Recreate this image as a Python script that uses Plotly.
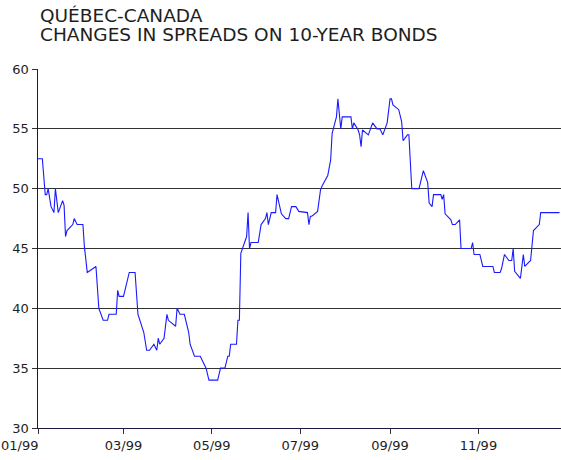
import plotly.graph_objects as go

dates = [
    "1999-01-01", "1999-01-04", "1999-01-06", "1999-01-07", "1999-01-08", "1999-01-10",
    "1999-01-12", "1999-01-13", "1999-01-15", "1999-01-18", "1999-01-19", "1999-01-20",
    "1999-01-21", "1999-01-25", "1999-01-26", "1999-01-28", "1999-02-01", "1999-02-02",
    "1999-02-04", "1999-02-10", "1999-02-12", "1999-02-15", "1999-02-18", "1999-02-19",
    "1999-02-24", "1999-02-25", "1999-02-26", "1999-03-01", "1999-03-05", "1999-03-09",
    "1999-03-11", "1999-03-15", "1999-03-17", "1999-03-19", "1999-03-22", "1999-03-24",
    "1999-03-25", "1999-03-26", "1999-03-29", "1999-03-31", "1999-04-01", "1999-04-06",
    "1999-04-07", "1999-04-09", "1999-04-12", "1999-04-15", "1999-04-16", "1999-04-19",
    "1999-04-23", "1999-04-27", "1999-04-29", "1999-05-05", "1999-05-07", "1999-05-10",
    "1999-05-12", "1999-05-13", "1999-05-14", "1999-05-18", "1999-05-19", "1999-05-20",
    "1999-05-21", "1999-05-25", "1999-05-26", "1999-05-27", "1999-05-28", "1999-06-02",
    "1999-06-04", "1999-06-07", "1999-06-08", "1999-06-09", "1999-06-11", "1999-06-14",
    "1999-06-15", "1999-06-16", "1999-06-18", "1999-06-21", "1999-06-23", "1999-06-25",
    "1999-06-28", "1999-06-30", "1999-07-06", "1999-07-07", "1999-07-08", "1999-07-09",
    "1999-07-13", "1999-07-15", "1999-07-16", "1999-07-20", "1999-07-22", "1999-07-23",
    "1999-07-26", "1999-07-27", "1999-07-29", "1999-07-30", "1999-08-05", "1999-08-06",
    "1999-08-07", "1999-08-10", "1999-08-11", "1999-08-12", "1999-08-13", "1999-08-17",
    "1999-08-20", "1999-08-23", "1999-08-25", "1999-08-27", "1999-08-30", "1999-09-01",
    "1999-09-02", "1999-09-03", "1999-09-07", "1999-09-09", "1999-09-10", "1999-09-13",
    "1999-09-14", "1999-09-16", "1999-09-21", "1999-09-24", "1999-09-27", "1999-09-28",
    "1999-09-30", "1999-10-01", "1999-10-06", "1999-10-07", "1999-10-08", "1999-10-09",
    "1999-10-13", "1999-10-14", "1999-10-16", "1999-10-19", "1999-10-20", "1999-10-27",
    "1999-10-28", "1999-10-29", "1999-11-02", "1999-11-04", "1999-11-11", "1999-11-12",
    "1999-11-16", "1999-11-17", "1999-11-19", "1999-11-22", "1999-11-24", "1999-11-25",
    "1999-11-26", "1999-11-30", "1999-12-02", "1999-12-03", "1999-12-07", "1999-12-09",
    "1999-12-13", "1999-12-14", "1999-12-27",
]

spreads = [
    52.5, 52.5, 49.5, 49.5, 50.0, 48.5,
    48.0, 50.0, 48.0, 49.0, 48.6, 46.0,
    46.5, 47.0, 47.5, 47.0, 47.0, 45.2,
    43.0, 43.5, 40.0, 39.0, 39.0, 39.5,
    39.5, 41.5, 41.0, 41.0, 43.0, 43.0,
    39.5, 38.0, 36.5, 36.5, 37.0, 36.5,
    37.5, 37.0, 37.5, 39.5, 39.0, 38.5,
    40.0, 39.5, 39.5, 38.0, 37.0, 36.0,
    36.0, 35.0, 34.0, 34.0, 35.0, 35.0,
    36.0, 36.0, 37.0, 37.0, 39.0, 39.0,
    44.6, 46.0, 48.0, 45.0, 45.5, 45.5,
    47.0, 47.5, 48.0, 47.0, 48.0, 48.0,
    49.5, 49.0, 47.9, 47.5, 47.5, 48.5,
    48.5, 48.1, 48.0, 47.0, 47.7, 47.7,
    48.1, 49.9, 50.2, 51.1, 52.4, 54.6,
    56.0, 57.5, 55.0, 56.0, 56.0, 55.0,
    55.5, 54.9, 54.5, 53.5, 54.9, 54.5,
    55.5, 55.0, 55.0, 54.5, 55.5, 57.5,
    57.5, 57.0, 56.6, 55.6, 54.0, 54.5,
    54.5, 50.0, 50.0, 51.5, 50.5, 48.8,
    48.5, 49.5, 49.5, 49.1, 49.5, 47.9,
    47.4, 47.0, 47.0, 47.4, 45.0, 45.0,
    45.5, 44.5, 44.5, 43.5, 43.5, 43.0,
    43.0, 43.35, 44.5, 44.0, 44.0, 45.0,
    43.1, 42.5, 44.5, 43.5, 44.0, 46.5,
    47.0, 48.0, 48.0,
]

tick_dates = ["1999-01-01", "1999-03-01", "1999-05-01", "1999-07-01", "1999-09-01", "1999-11-01"]
tick_labels = ["", "03/99", "05/99", "07/99", "09/99", "11/99"]
first_tick_label = "01/99"
title_lines = ["QUÉBEC-CANADA", "CHANGES IN SPREADS ON 10-YEAR BONDS"]

FONT = "DejaVu Sans"
TXT = "#1e1e1e"

fig = go.Figure()
fig.add_trace(go.Scatter(
    x=dates, y=spreads, mode="lines",
    line=dict(color="#1a1aff", width=1.1),
    hoverinfo="skip", showlegend=False,
))

fig.update_layout(
    width=561, height=460,
    margin=dict(l=38, r=0, t=69, b=32, autoexpand=False),
    paper_bgcolor="white", plot_bgcolor="white",
    font=dict(family=FONT, size=13, color=TXT),
    hovermode=False,
    xaxis=dict(
        type="date", automargin=False,
        range=["1999-01-01", "1999-12-28"],
        tickvals=tick_dates, ticktext=tick_labels,
        ticks="outside", ticklen=5, tickcolor="#333333",
        showgrid=False, showline=True, linecolor="#1a1a40", linewidth=1,
        zeroline=False, tickfont=dict(family=FONT, size=13, color=TXT),
    ),
    yaxis=dict(
        range=[30, 60], automargin=False,
        tickvals=[30, 35, 40, 45, 50, 55, 60],
        ticks="outside", ticklen=5, tickcolor="#333333",
        showgrid=True, gridcolor="#333333", gridwidth=1,
        showline=True, linecolor="#1a1a40", linewidth=1.5,
        zeroline=False, tickfont=dict(family=FONT, size=13, color=TXT),
    ),
    annotations=[
        dict(text=title_lines[0], xref="paper", yref="paper", x=0, y=1.150,
             xanchor="left", yanchor="middle", showarrow=False,
             font=dict(family=FONT, size=18.5, color=TXT)),
        dict(text=title_lines[1], xref="paper", yref="paper", x=0, y=1.095,
             xanchor="left", yanchor="middle", showarrow=False,
             font=dict(family=FONT, size=18.5, color=TXT)),
        dict(text=first_tick_label, xref="x", yref="paper", x=tick_dates[0], y=0,
             xanchor="right", yanchor="top", yshift=-8, xshift=2, showarrow=False,
             font=dict(family=FONT, size=13, color=TXT)),
    ],
)

# remove the default 8px page margin so the 561x460 figure fills the window
fig.write_html(
    "out.html",
    config={"displayModeBar": False, "staticPlot": True},
    post_script="document.body.style.margin='0';document.body.style.overflow='hidden';",
)
